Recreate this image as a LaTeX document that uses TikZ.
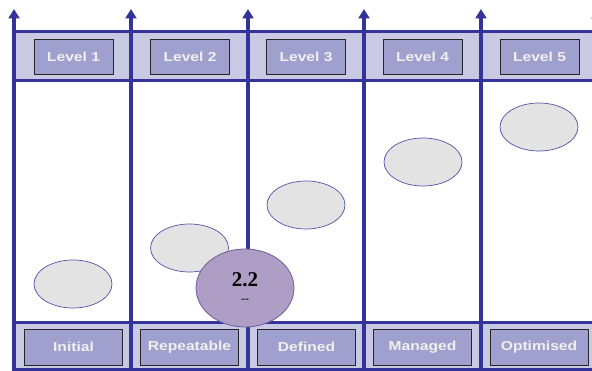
\documentclass[tikz,border=0pt]{standalone}
\usepackage{fontspec}
\setmainfont{Liberation Sans}[FakeStretch=1.2]
\newfontfamily\numfont{Liberation Serif}
\usetikzlibrary{arrows.meta,shapes.geometric}

\definecolor{cmmline}{HTML}{333399}
\definecolor{cmmband}{HTML}{C9C9E3}
\definecolor{cmmbox}{HTML}{A0A0CE}
\definecolor{cmmgrey}{HTML}{E3E3E3}
\definecolor{cmmpurple}{HTML}{AE9EC6}
\definecolor{cmmpurpledark}{HTML}{6B5B9B}

\begin{document}
\begin{tikzpicture}[x=1pt,y=-1pt,
  axis/.style={line width=3.4pt,color=cmmline,-{Triangle[width=11pt,length=9.5pt]}},
  bandline/.style={line width=3pt,color=cmmline},
  level/.style={draw=black!85,line width=0.8pt,fill=cmmbox,minimum width=79pt,minimum height=35pt,
    inner sep=0pt,text=white!94!black,font=\bfseries\fontsize{13}{15}\selectfont},
  stage/.style={level,minimum width=98pt,minimum height=36pt},
  blob/.style={ellipse,draw=cmmline!85,line width=0.7pt,fill=cmmgrey,minimum width=78pt,minimum height=48pt,inner sep=0pt},
  badge/.style={ellipse,draw=cmmpurpledark,line width=0.8pt,fill=cmmpurple,minimum width=98pt,minimum height=78pt,
    inner sep=0pt,align=center}]

  \useasboundingbox (0,0) rectangle (592,371);

  % bands behind the columns
  \fill [cmmband] (14,32) rectangle (592,81);
  \fill [cmmband] (14,323) rectangle (592,370);

  % column axes
  \coordinate (c1b) at (14,371);  \coordinate (c1t) at (14,9);
  \coordinate (c2b) at (131,371); \coordinate (c2t) at (131,9);
  \coordinate (c3b) at (248,371); \coordinate (c3t) at (248,9);
  \coordinate (c4b) at (364,371); \coordinate (c4t) at (364,9);
  \coordinate (c5b) at (481,371); \coordinate (c5t) at (481,9);
  \coordinate (c6b) at (597,371); \coordinate (c6t) at (597,9);
  \draw [axis] (c1b) -- (c1t);
  \draw [axis] (c2b) -- (c2t);
  \draw [axis] (c3b) -- (c3t);
  \draw [axis] (c4b) -- (c4t);
  \draw [axis] (c5b) -- (c5t);
  \draw [axis] (c6b) -- (c6t);

  % band edges
  \coordinate (tl) at (12.5,32);  \coordinate (tr) at (592,32);
  \coordinate (ml) at (12.5,81);  \coordinate (mr) at (592,81);
  \coordinate (bl) at (12.5,323); \coordinate (br) at (592,323);
  \coordinate (el) at (12.5,370); \coordinate (er) at (592,370);
  \draw [bandline] (tl) -- (tr);
  \draw [bandline] (ml) -- (mr);
  \draw [bandline] (bl) -- (br);
  \draw [bandline] (el) -- (er);

  % levels
  \node [level] at (73.5,56.5) (lvl1) {Level 1};
  \node [level] at (190,56.5) (lvl2) {Level 2};
  \node [level] at (306,56.5) (lvl3) {Level 3};
  \node [level] at (422.5,56.5) (lvl4) {Level 4};
  \node [level] at (539.5,56.5) (lvl5) {Level 5};

  % stages
  \node [stage] at (73.5,347) (initial) {Initial};
  \node [stage] at (189.5,347) (repeat) {Repeatable};
  \node [stage] at (306.5,347) (defined) {Defined};
  \node [stage] at (422.5,347) (managed) {Managed};
  \node [stage] at (539,347) (optim) {Optimised};

  % maturity steps
  \node [blob] at (73,284) (step1) {};
  \node [blob] at (189.5,248) (step2) {};
  \node [blob] at (306,205) (step3) {};
  \node [blob] at (423,162) (step4) {};
  \node [blob] at (539,127) (step5) {};

  \node [badge] at (245,288) (here)
    {{\numfont\bfseries\fontsize{21}{22}\selectfont 2.2}\\[4pt]{\numfont\fontsize{12}{12}\selectfont --}};

\end{tikzpicture}
\end{document}
